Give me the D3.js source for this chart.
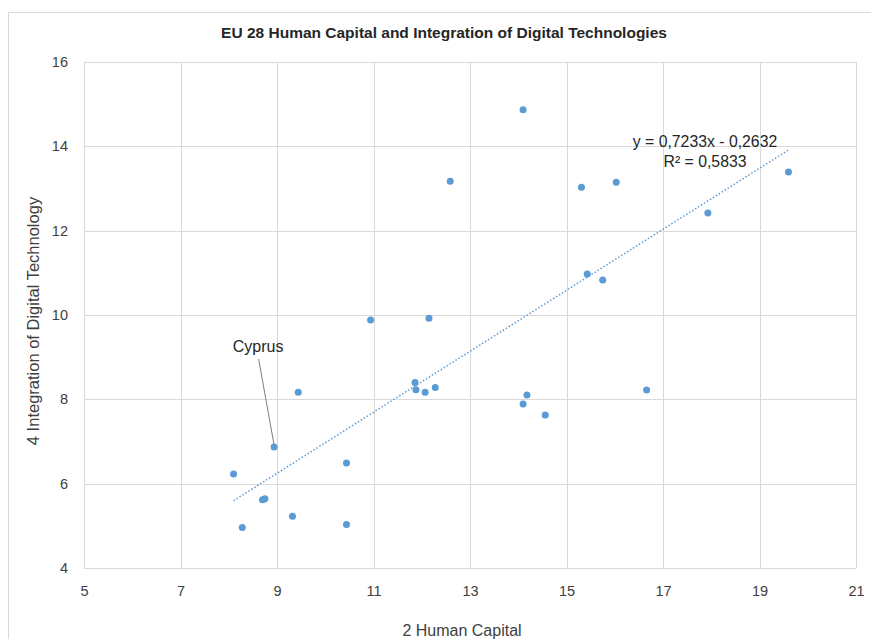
<!DOCTYPE html>
<html>
<head>
<meta charset="utf-8">
<script src="https://cdn.jsdelivr.net/npm/d3@7.9.0/dist/d3.min.js"></script>
<style>
  body { margin: 0; background: #fff; }
  text { font-family: "Liberation Sans", Arial, sans-serif; }
</style>
</head>
<body>
<svg id="chart" width="871" height="639"></svg>
<script>
// EU 28 member states: human capital score vs integration of digital technology
const humanCapital = [14.10, 12.59, 15.31, 16.03, 15.43, 15.75, 10.94, 12.15, 19.60, 17.93,
  9.44, 8.94, 10.44, 8.10, 8.70, 8.75, 9.32, 8.28, 10.44,
  11.86, 11.88, 12.07, 12.28, 14.18, 14.10, 14.56, 16.66];
const digitalIntegration = [14.87, 13.17, 13.03, 13.15, 10.97, 10.83, 9.88, 9.92, 13.39, 12.42,
  8.17, 6.87, 6.49, 6.23, 5.62, 5.64, 5.23, 4.96, 5.03,
  8.40, 8.23, 8.17, 8.28, 8.10, 7.89, 7.63, 8.22];
const labelled = { index: 11, name: 'Cyprus' };

const xTicks = [5, 7, 9, 11, 13, 15, 17, 19, 21];
const yTicks = [4, 6, 8, 10, 12, 14, 16];

// linear trend as reported on the chart
const slope = 0.7233;
const intercept = -0.2632;
const rSquared = 0.5833;

const svg = d3.select('#chart');
const margin = { left: 84, right: 15, top: 62, bottom: 71 };
const W = 871, H = 639;

const x = d3.scaleLinear().domain([5, 21]).range([margin.left, W - margin.right]);
const y = d3.scaleLinear().domain([4, 16]).range([H - margin.bottom, margin.top]);

// outer chart border (cropped by the window)
svg.append('rect')
  .attr('x', 8.5).attr('y', 12.5).attr('width', 900).attr('height', 700)
  .attr('fill', 'none').attr('stroke', '#d9d9d9');

// grid
const grid = svg.append('g').attr('stroke', '#d9d9d9').attr('stroke-width', 1);
xTicks.forEach(t => {
  grid.append('line')
    .attr('x1', Math.round(x(t)) + 0.5).attr('x2', Math.round(x(t)) + 0.5)
    .attr('y1', y(16)).attr('y2', y(4));
});
yTicks.forEach(t => {
  grid.append('line')
    .attr('y1', Math.round(y(t)) + 0.5).attr('y2', Math.round(y(t)) + 0.5)
    .attr('x1', x(5)).attr('x2', x(21));
});

// axes (labels only, Excel style)
const xAxis = d3.axisBottom(x).tickValues(xTicks).tickSize(0).tickPadding(18);
const yAxis = d3.axisLeft(y).tickValues(yTicks).tickSize(0).tickPadding(16);

svg.append('g').attr('transform', `translate(0,${y(4)})`).call(xAxis)
  .call(g => g.select('.domain').attr('stroke', '#d9d9d9'))
  .selectAll('text').attr('font-size', 14.5).attr('fill', '#404040')
  .attr('font-family', '"Liberation Sans", Arial, sans-serif');

svg.append('g').attr('transform', `translate(${x(5)},0)`).call(yAxis)
  .call(g => g.select('.domain').attr('stroke', '#d9d9d9'))
  .selectAll('text').attr('font-size', 14.5).attr('fill', '#404040')
  .attr('font-family', '"Liberation Sans", Arial, sans-serif');

// trend line
const xMin = d3.min(humanCapital), xMax = d3.max(humanCapital);
svg.append('line')
  .attr('x1', x(xMin)).attr('y1', y(slope * xMin + intercept))
  .attr('x2', x(xMax)).attr('y2', y(slope * xMax + intercept))
  .attr('stroke', '#5b9bd5').attr('stroke-width', 1.5)
  .attr('stroke-dasharray', '1.5,2');

// points
svg.append('g').selectAll('circle')
  .data(humanCapital.map((v, i) => [v, digitalIntegration[i]]))
  .join('circle')
  .attr('cx', d => x(d[0]))
  .attr('cy', d => y(d[1]))
  .attr('r', 3.5)
  .attr('fill', '#5b9bd5');

// Cyprus callout
const cx = x(humanCapital[labelled.index]), cy = y(digitalIntegration[labelled.index]);
svg.append('line')
  .attr('x1', cx - 15.5).attr('y1', cy - 88)
  .attr('x2', cx).attr('y2', cy - 2)
  .attr('stroke', '#7f7f7f').attr('stroke-width', 1);
svg.append('text')
  .attr('x', cx - 16).attr('y', cy - 95)
  .attr('text-anchor', 'middle').attr('font-size', 16).attr('fill', '#262626')
  .text(labelled.name);

// trend equation
const fmt = v => v.toFixed(4).replace('.', ',');
svg.append('text')
  .attr('x', 705).attr('y', 147).attr('text-anchor', 'middle')
  .attr('font-size', 15.8).attr('fill', '#262626')
  .text(`y = ${fmt(slope)}x - ${fmt(-intercept)}`);
svg.append('text')
  .attr('x', 705).attr('y', 167).attr('text-anchor', 'middle')
  .attr('font-size', 15.8).attr('fill', '#262626')
  .text(`R² = ${fmt(rSquared)}`);

// title
svg.append('text')
  .attr('x', 444).attr('y', 38).attr('text-anchor', 'middle')
  .attr('font-size', 15.5).attr('font-weight', 'bold').attr('fill', '#262626')
  .text('EU 28 Human Capital and Integration of Digital Technologies');

// axis titles
svg.append('text')
  .attr('x', 462).attr('y', 636).attr('text-anchor', 'middle')
  .attr('font-size', 16).attr('fill', '#404040')
  .text('2 Human Capital');
svg.append('text')
  .attr('transform', 'translate(39,321) rotate(-90)')
  .attr('text-anchor', 'middle')
  .attr('font-size', 16.5).attr('fill', '#404040')
  .text('4 Integration of Digital Technology');
</script>
</body>
</html>
